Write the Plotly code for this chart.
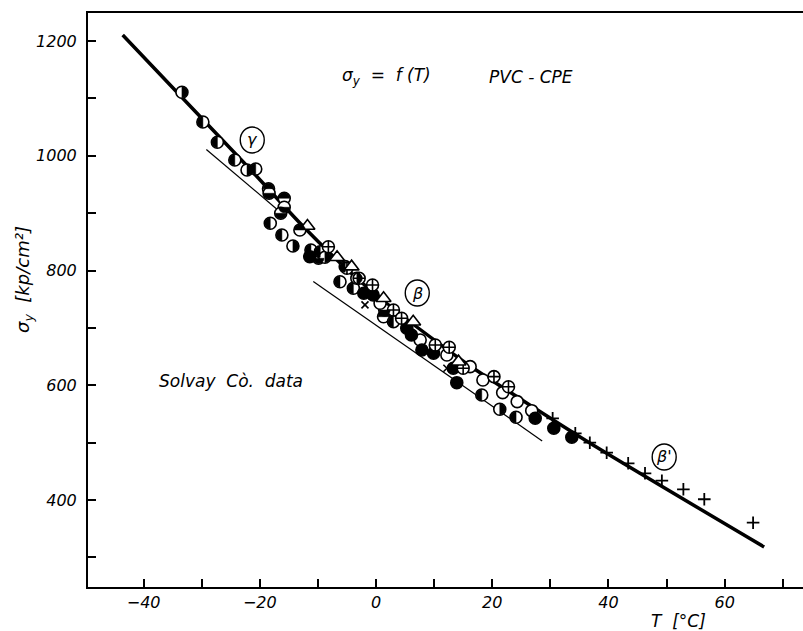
import plotly.graph_objects as go

# ---------------- data ----------------
# half-filled circles
T_half = [-33.4, -29.8, -27.3, -24.3, -22.2, -20.7, -18.5, -18.4, -15.8, -15.8, -16.4,
          -18.2, -16.2, -14.3, -13.1, -11.2, -9.9, -9.6, -8.8, -6.2, -3.9, -3.3, -5.3,
          1.3, 3.0, 18.2, 21.3, 24.1, 1.5]
S_half = [1110.6, 1058.8, 1023.5, 992.6, 975.2, 976.9, 942.6, 934.6, 925.9, 910.2, 899.7,
          882.3, 861.9, 842.7, 870.6, 835.8, 821.3, 832.8, 823.0, 780.5, 769.0, 786.4, 806.7,
          719.5, 710.8, 583.1, 558.1, 544.2, 731.2]
# which half is black: L(eft), R(ight), B(ottom), T(op)
half_side = ["R", "L", "L", "L", "R", "L", "T", "B", "T", "B", "B",
             "L", "L", "R", "T", "L", "B", "L", "R", "L", "L", "R", "L",
             "T", "L", "L", "R", "L", "B"]
# open circles
T_open = [0.7, 7.6, 12.2, 16.2, 18.4, 21.8, 24.3, 26.8]
S_open = [742.9, 678.9, 652.8, 632.4, 609.2, 587.1, 571.4, 555.7]
# filled circles
T_filled = [-11.4, -2.1, -0.5, 5.3, 6.1, 7.9, 9.9, 13.3, 13.9, 27.4, 30.6, 33.7]
S_filled = [824.1, 760.3, 757.3, 699.3, 687.6, 661.5, 655.7, 629.6, 604.5, 542.4, 525.0, 509.3]
# circles with a cross
T_pcirc = [-8.2, -5.0, -2.9, -0.6, 3.0, 4.4, 10.2, 12.6, 15.0, 20.3, 22.8]
S_pcirc = [841.5, 803.9, 786.4, 774.8, 731.2, 716.7, 670.2, 666.2, 629.6, 615.0, 597.5]
# open triangles
T_tri = [-11.8, -6.7, -4.2, 1.3, 6.4, 14.2]
S_tri = [877.6, 823.0, 806.7, 751.6, 710.8, 641.1]
# x markers
T_x = [-1.9, 12.2]
S_x = [740.1, 629.6]
# + markers
T_plus = [30.4, 34.3, 36.8, 39.7, 43.4, 46.3, 49.2, 52.9, 56.5, 64.9]
S_plus = [542.4, 516.3, 499.9, 482.5, 464.0, 446.6, 433.7, 418.7, 401.3, 360.5]

# thick master curve
T_fit = [-43.6, -21.7, -13.1, -4.5, 4.1, 16.2, 36.8, 66.8]
S_fit = [1210.5, 976.9, 882.8, 797.4, 724.2, 633.6, 499.4, 318.2]
# thin tangent lines (gamma and beta)
T_gamma = [-29.2, -16.9]
S_gamma = [1011.0, 905.6]
T_beta = [-10.8, 28.6]
S_beta = [781.0, 503.0]

x_ticks = [-40, -20, 0, 20, 40, 60]
y_ticks = [400, 600, 800, 1000, 1200]

# circled region labels
region_T = [-21.3, 7.1, 49.6]
region_S = [1027.5, 760.8, 475.0]
region_txt = ["γ", "β", "β'"]

# ---------------- figure ----------------
FONT = "DejaVu Sans"
MS = 12
fig = go.Figure()

fig.add_trace(go.Scatter(x=T_fit, y=S_fit, mode="lines",
                         line=dict(color="black", width=3.5, shape="spline", smoothing=0.6),
                         showlegend=False, hoverinfo="skip"))
fig.add_trace(go.Scatter(x=T_gamma, y=S_gamma, mode="lines",
                         line=dict(color="black", width=1.2), showlegend=False))
fig.add_trace(go.Scatter(x=T_beta, y=S_beta, mode="lines",
                         line=dict(color="black", width=1.2), showlegend=False))

mline = dict(color="black", width=1.6)
# half-filled circles: white disc with outline; black half added as pixel-sized shapes
fig.add_trace(go.Scatter(x=T_half, y=S_half, mode="markers", showlegend=False,
                         marker=dict(symbol="circle", size=MS, color="white", line=mline)))


def half_path(side, r=5.5):
    k = 0.5523 * r
    if side in ("R", "L"):
        s = 1 if side == "R" else -1
        return (f"M 0,{-r} C {s*k},{-r} {s*r},{-k} {s*r},0 "
                f"C {s*r},{k} {s*k},{r} 0,{r} Z")
    s = 1 if side == "T" else -1
    return (f"M {-r},0 C {-r},{s*k} {-k},{s*r} 0,{s*r} "
            f"C {k},{s*r} {r},{s*k} {r},0 Z")


for t, s, side in zip(T_half, S_half, half_side):
    fig.add_shape(type="path", xref="x", yref="y", xsizemode="pixel", ysizemode="pixel",
                  xanchor=t, yanchor=s, path=half_path(side),
                  fillcolor="black", line=dict(color="black", width=0.5), layer="above")

fig.add_trace(go.Scatter(x=T_open, y=S_open, mode="markers", showlegend=False,
                         marker=dict(symbol="circle", size=MS, color="white", line=mline)))
fig.add_trace(go.Scatter(x=T_filled, y=S_filled, mode="markers", showlegend=False,
                         marker=dict(symbol="circle", size=MS, color="black", line=mline)))
fig.add_trace(go.Scatter(x=T_pcirc, y=S_pcirc, mode="markers", showlegend=False,
                         marker=dict(symbol="circle-cross", size=MS, color="white", line=mline)))
fig.add_trace(go.Scatter(x=T_tri, y=S_tri, mode="markers", showlegend=False,
                         marker=dict(symbol="triangle-up", size=13, color="white", line=mline)))
fig.add_trace(go.Scatter(x=T_x, y=S_x, mode="markers", showlegend=False,
                         marker=dict(symbol="x-thin", size=7, color="black",
                                     line=dict(color="black", width=1.6))))
fig.add_trace(go.Scatter(x=T_plus, y=S_plus, mode="markers", showlegend=False,
                         marker=dict(symbol="cross-thin", size=9, color="black",
                                     line=dict(color="black", width=1.8))))

# circled labels
for t, s, txt in zip(region_T, region_S, region_txt):
    fig.add_shape(type="circle", xref="x", yref="y", xsizemode="pixel", ysizemode="pixel",
                  xanchor=t, yanchor=s, x0=-12, x1=12, y0=-13, y1=13,
                  line=dict(color="black", width=1.4))
    fig.add_annotation(x=t, y=s, text=txt, showarrow=False,
                       font=dict(family=FONT, size=16, color="black", style="italic"))

tfont = dict(family=FONT, size=17, color="black", style="italic")
fig.add_annotation(x=-6.2, y=1138, text="σ<sub>y</sub>  =  f (T)", showarrow=False,
                   xanchor="left", yanchor="middle", font=tfont)
fig.add_annotation(x=19.1, y=1138, text="PVC - CPE", showarrow=False,
                   xanchor="left", yanchor="middle", font=tfont)
fig.add_annotation(x=-37.7, y=608, text="Solvay  Cò.  data", showarrow=False,
                   xanchor="left", yanchor="middle", font=tfont)

# axis titles
fig.add_annotation(xref="paper", yref="paper", x=(678 - 88) / 715, y=(587 - 621) / 574,
                   xanchor="center", yanchor="middle",
                   text="T  [°C]", showarrow=False,
                   font=dict(family=FONT, size=17, color="black", style="italic"))
fig.add_annotation(xref="paper", yref="paper", x=(24 - 88) / 715, y=(587 - 280) / 574,
                   xanchor="center", yanchor="middle",
                   text="σ<sub>y</sub>  [kp/cm²]", showarrow=False, textangle=-90,
                   font=dict(family=FONT, size=18, color="black", style="italic"))

fig.update_layout(
    width=803, height=631,
    margin=dict(l=88, r=0, t=13, b=44),
    paper_bgcolor="white", plot_bgcolor="white",
    xaxis=dict(range=[-49.57, 73.49], tickvals=x_ticks, ticks="inside", ticklen=8,
               tickwidth=2, tickcolor="black", showgrid=False, zeroline=False,
               showline=True, linecolor="black", linewidth=2, mirror=True,
               tickfont=dict(family=FONT, size=16, color="black", style="italic"),
               minor=dict(dtick=10, tick0=0, ticks="inside", ticklen=8, tickwidth=2,
                          tickcolor="black", showgrid=False)),
    yaxis=dict(range=[248.4, 1248.8], tickvals=y_ticks, ticks="inside", ticklen=8,
               tickwidth=2, tickcolor="black", showgrid=False, zeroline=False,
               showline=True, linecolor="black", linewidth=2, ticklabelstandoff=6,
               tickfont=dict(family=FONT, size=16, color="black", style="italic"),
               minor=dict(dtick=100, tick0=0, ticks="inside", ticklen=8, tickwidth=2,
                          tickcolor="black", showgrid=False)),
)

fig.write_html("out.html")
